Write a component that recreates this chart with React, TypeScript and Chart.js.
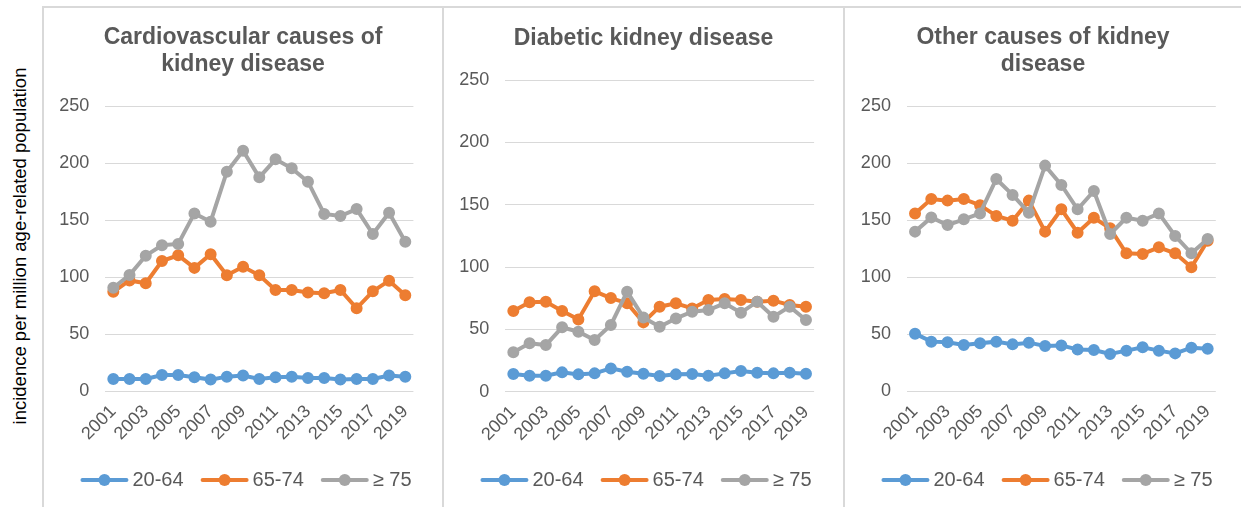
import React, { useEffect, useRef } from 'react';
import { Chart, registerables } from 'chart.js';

Chart.register(...registerables);

// ---------- data ----------
const years = ['2001', '2002', '2003', '2004', '2005', '2006', '2007', '2008', '2009', '2010',
  '2011', '2012', '2013', '2014', '2015', '2016', '2017', '2018', '2019'];
const ageGroups = ['20-64', '65-74', '≥ 75'];
const seriesColors = ['#5B9BD5', '#ED7D31', '#A5A5A5'];
const yTickValues = [0, 50, 100, 150, 200, 250];

const cardioTitle = ['Cardiovascular causes of', 'kidney disease'];
const cardio2064 = [10.5, 10.5, 10.5, 14, 14, 12, 10, 12.6, 13.5, 10.5, 12, 12.6, 11.4, 11.4, 10, 10.5, 10.5, 13.5, 12.6];
const cardio6574 = [87, 97, 94.5, 114, 119, 108, 120, 101.5, 109, 101.5, 88.6, 88.6, 86.5, 85.7, 88.6, 72.5, 87.4, 96.8, 84];
const cardio75 = [90.6, 101.8, 118.7, 127.8, 129, 155.8, 148.5, 192.4, 210.8, 187.4, 203.2, 195.3, 183.6, 155.3, 153.5, 159.6, 137.7, 156.4, 131];

const diabTitle = ['Diabetic kidney disease'];
const diab2064 = [14.2, 12.8, 12.8, 15.5, 13.9, 14.7, 18.7, 16, 14.4, 12.6, 13.9, 14.2, 12.8, 14.7, 16.6, 15.2, 14.7, 15.2, 14.4];
const diab6574 = [64.7, 71.7, 72.2, 64.7, 58, 80.5, 75.1, 71, 55.6, 68.2, 70.9, 66.8, 73.5, 74.3, 73.5, 72.2, 73, 69.5, 68.2];
const diab75 = [31.6, 38.8, 37.4, 51.6, 48.1, 41.4, 53.5, 80.2, 59.6, 52.1, 58.8, 64.2, 65.5, 70.9, 63.4, 72.2, 60.2, 68.2, 57.5];

const otherTitle = ['Other causes of kidney', 'disease'];
const other2064 = [50.3, 43.3, 42.7, 40.4, 41.8, 43.3, 40.9, 42.4, 39.5, 40, 36.5, 36, 32.5, 35.4, 38.3, 35.4, 33, 38, 37.1];
const other6574 = [155.8, 168.4, 167, 168.4, 163, 153.5, 149.4, 167, 139.8, 159.4, 138.9, 152, 142.7, 120.8, 120.2, 126, 120.8, 108.5, 131.9];
const other75 = [139.8, 152.3, 145.6, 150.6, 155.8, 186, 172, 156.4, 197.7, 180.7, 159.4, 175.4, 137.7, 152, 149.4, 155.8, 136, 120.8, 133.3];

const yAxisTitle = 'incidence per million age-related population';

// ---------- styles ----------
const FONT = '"Liberation Sans", Arial, Helvetica, sans-serif';
const TEXT = '#595959';
const GRID = '#d9d9d9';
const CANVAS_H = 499;

const lineLegendPlugin = {
  id: 'lineLegend',
  afterDraw(chart: any, _args: any, opts: any) {
    const ctx = chart.ctx as CanvasRenderingContext2D;
    ctx.save();
    ctx.font = `20px ${FONT}`;
    const lineW = 48, gapText = 4, gapItem = 17;
    const items = chart.data.datasets.map((ds: any) => ({
      text: ds.label as string,
      color: ds.borderColor as string,
      w: ctx.measureText(ds.label).width,
    }));
    const total = items.reduce((s: number, it: any) => s + lineW + gapText + it.w, 0) + gapItem * (items.length - 1);
    let x = opts.cx - total / 2;
    const y = opts.cy;
    for (const it of items) {
      ctx.strokeStyle = it.color;
      ctx.lineWidth = 4;
      ctx.lineCap = 'round';
      ctx.beginPath();
      ctx.moveTo(x + 2, y);
      ctx.lineTo(x + lineW - 2, y);
      ctx.stroke();
      ctx.fillStyle = it.color;
      ctx.beginPath();
      ctx.arc(x + lineW / 2, y, 6, 0, Math.PI * 2);
      ctx.fill();
      ctx.fillStyle = TEXT;
      ctx.textAlign = 'left';
      ctx.textBaseline = 'middle';
      ctx.fillText(it.text, x + lineW + gapText, y);
      x += lineW + gapText + it.w + gapItem;
    }
    ctx.restore();
  },
};

type PanelProps = {
  left: number;
  width: number;
  title: string[];
  titlePadTop: number;
  titlePadBottom: number;
  series: number[][];
  yW: number;
  rightW: number;
  areaBottom: number;
};

function Panel(p: PanelProps) {
  const ref = useRef<HTMLCanvasElement>(null);
  useEffect(() => {
    if (!ref.current) return;
    const chart = new Chart(ref.current, {
      type: 'line',
      data: {
        labels: years,
        datasets: p.series.map((d, i) => ({
          label: ageGroups[i],
          data: d,
          borderColor: seriesColors[i],
          backgroundColor: seriesColors[i],
          pointBackgroundColor: seriesColors[i],
          pointBorderColor: seriesColors[i],
          pointRadius: 5,
          pointBorderWidth: 2,
          borderWidth: 4,
          tension: 0,
          order: 3 - i,
          xAxisID: 'x',
          yAxisID: 'y',
        })),
      },
      options: {
        responsive: false,
        maintainAspectRatio: false,
        animation: false,
        layout: { padding: 0 },
        font: { family: FONT },
        plugins: {
          legend: { display: false },
          tooltip: { enabled: false },
          title: {
            display: true,
            text: p.title,
            color: TEXT,
            font: { family: FONT, size: 23, weight: 'bold', lineHeight: 27 / 23 },
            padding: { top: p.titlePadTop, bottom: p.titlePadBottom },
          },
          lineLegend: { cx: 202, cy: 472 },
        } as any,
        scales: {
          x: {
            type: 'category',
            offset: true,
            grid: { display: false },
            border: { display: false },
            ticks: {
              autoSkip: false,
              minRotation: 45,
              maxRotation: 45,
              color: TEXT,
              padding: 2,
              font: { family: FONT, size: 18 },
              callback: (_v: any, i: number) => (i % 2 === 0 ? years[i] : ''),
            },
            afterFit: (s: any) => { s.height = CANVAS_H - p.areaBottom; },
          },
          y: {
            type: 'linear',
            position: 'left',
            min: 0,
            max: 250,
            grid: { color: GRID, lineWidth: 1, drawTicks: false },
            border: { display: false },
            afterBuildTicks: (s: any) => { s.ticks = yTickValues.map((v) => ({ value: v })); },
            ticks: {
              color: TEXT,
              padding: 16,
              font: { family: FONT, size: 18 },
            },
            afterFit: (s: any) => { s.width = p.yW; },
          },
          r: {
            type: 'linear',
            position: 'right',
            display: true,
            grid: { display: false, drawTicks: false },
            border: { display: false },
            ticks: { display: false },
            afterFit: (s: any) => { s.width = p.rightW; },
          },
        },
      } as any,
      plugins: [lineLegendPlugin],
    });
    return () => chart.destroy();
  }, []);
  return (
    <canvas
      ref={ref}
      width={p.width}
      height={CANVAS_H}
      style={{ position: 'absolute', left: p.left, top: 8, width: p.width, height: CANVAS_H }}
    />
  );
}

const lineStyle = (l: number, t: number, w: number, h: number): React.CSSProperties => ({
  position: 'absolute', left: l, top: t, width: w, height: h, background: GRID,
});

export default function App() {
  useEffect(() => {
    document.body.style.margin = '0';
  }, []);
  return (
    <div style={{ position: 'relative', width: 1241, height: 507, overflow: 'hidden', background: '#fff', fontFamily: FONT }}>
      <Panel left={44} width={398} title={cardioTitle} titlePadTop={16.5} titlePadBottom={27.5}
        series={[cardio2064, cardio6574, cardio75]} yW={61.2} rightW={28.6} areaBottom={383} />
      <Panel left={444} width={399} title={diabTitle} titlePadTop={17.5} titlePadBottom={27.5}
        series={[diab2064, diab6574, diab75]} yW={61.2} rightW={28.9} areaBottom={383.7} />
      <Panel left={845} width={396} title={otherTitle} titlePadTop={16.5} titlePadBottom={27.5}
        series={[other2064, other6574, other75]} yW={61.9} rightW={25.2} areaBottom={383} />
      {/* panel borders */}
      <div style={lineStyle(42, 6, 2, 501)} />
      <div style={lineStyle(442, 6, 2, 501)} />
      <div style={lineStyle(843, 6, 2, 501)} />
      <div style={lineStyle(42, 6, 1199, 2)} />
      {/* y axis title */}
      <div
        style={{
          position: 'absolute', left: 20 - 250, top: 246 - 11, width: 500, height: 22, lineHeight: '22px',
          textAlign: 'center', transform: 'rotate(-90deg)', fontSize: 18.5, color: '#000', whiteSpace: 'nowrap',
        }}
      >
        {yAxisTitle}
      </div>
    </div>
  );
}
